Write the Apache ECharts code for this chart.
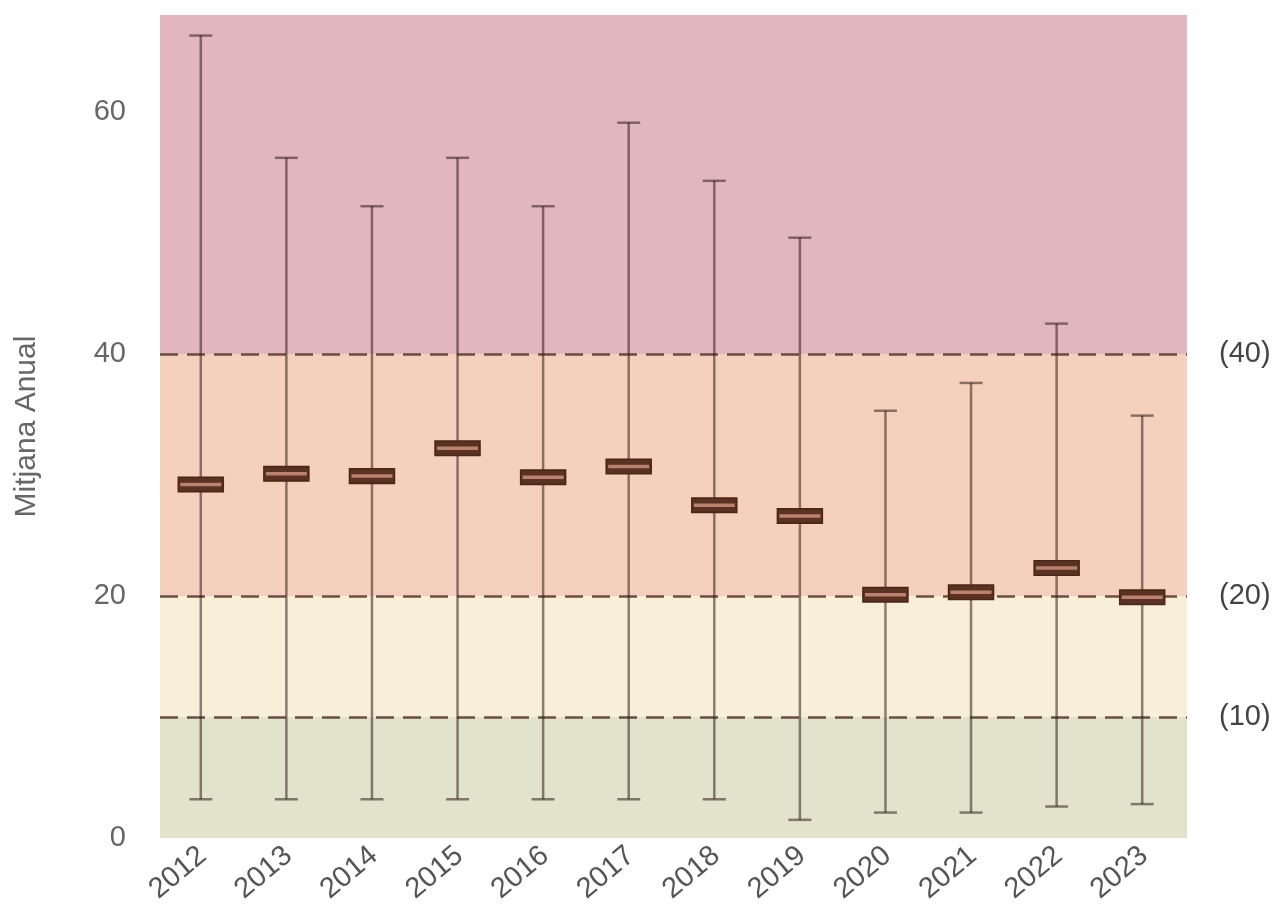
<!DOCTYPE html>
<html>
<head>
<meta charset="utf-8">
<script src="https://cdn.jsdelivr.net/npm/echarts@6/dist/echarts.min.js"></script>
<style>
html,body{margin:0;padding:0;background:#fff;}
#chart{width:1278px;height:914px;}
</style>
</head>
<body>
<div id="chart"></div>
<script>
const years = ['2012','2013','2014','2015','2016','2017','2018','2019','2020','2021','2022','2023'];
const whiskerLow  = [3.2, 3.2, 3.2, 3.2, 3.2, 3.2, 3.2, 1.5, 2.1, 2.1, 2.6, 2.8];
const q1          = [28.6, 29.5, 29.3, 31.6, 29.2, 30.1, 26.9, 26.0, 19.5, 19.7, 21.7, 19.3];
const medians     = [29.2, 30.1, 29.9, 32.2, 29.8, 30.7, 27.5, 26.6, 20.1, 20.3, 22.3, 19.9];
const q3          = [29.8, 30.7, 30.5, 32.8, 30.4, 31.3, 28.1, 27.2, 20.7, 20.9, 22.9, 20.5];
const whiskerHigh = [66.3, 56.2, 52.2, 56.2, 52.2, 59.1, 54.3, 49.6, 35.3, 37.6, 42.5, 34.9];
const thresholds  = [10, 20, 40];
const thresholdLabels = ['(10)', '(20)', '(40)'];
const bandEdges   = [0, 10, 20, 40, 68];
const bandColors  = ['#e1e3ca', '#f9efd8', '#f5d1bd', '#e2b6bd'];
const yTicks = [0, 20, 40, 60];

const boxData = years.map((y, i) => [i, whiskerLow[i], q1[i], medians[i], q3[i], whiskerHigh[i]]);
const FONT = 'Liberation Sans, Arial, sans-serif';

function renderItem(params, api) {
  const i = api.value(0);
  const lo = api.coord([i, api.value(1)]);
  const p1 = api.coord([i, api.value(2)]);
  const pm = api.coord([i, api.value(3)]);
  const p3 = api.coord([i, api.value(4)]);
  const hi = api.coord([i, api.value(5)]);
  const x = lo[0] - 2;
  const boxW = 45, capW = 23;
  const wStyle = {stroke: 'rgba(50,30,28,0.55)', lineWidth: 2.5};
  return {
    type: 'group',
    children: [
      {type: 'line', shape: {x1: x, y1: lo[1], x2: x, y2: hi[1]}, style: wStyle},
      {type: 'line', shape: {x1: x - capW/2, y1: lo[1], x2: x + capW/2, y2: lo[1]}, style: wStyle},
      {type: 'line', shape: {x1: x - capW/2, y1: hi[1], x2: x + capW/2, y2: hi[1]}, style: wStyle},
      {type: 'rect', shape: {x: x - boxW/2, y: p3[1], width: boxW, height: p1[1] - p3[1]},
       style: {fill: '#5a3122', stroke: '#4a2618', lineWidth: 1.5}},
      {type: 'line', shape: {x1: x - boxW/2 + 2, y1: pm[1], x2: x + boxW/2 - 2, y2: pm[1]},
       style: {stroke: '#b8826f', lineWidth: 3.5}}
    ]
  };
}

const chart = echarts.init(document.getElementById('chart'));
chart.setOption({
  animation: false,
  grid: {left: 160, right: 91, top: 15, bottom: 76},
  xAxis: {
    type: 'category',
    data: years,
    axisLine: {show: false},
    axisTick: {show: false},
    splitLine: {show: false},
    axisLabel: {rotate: 40, fontSize: 29, color: '#555', fontFamily: FONT, margin: 14}
  },
  yAxis: {
    type: 'value',
    min: 0,
    max: 68,
    interval: 20,
    name: 'Mitjana Anual',
    nameLocation: 'middle',
    nameGap: 118,
    nameTextStyle: {fontSize: 30, color: '#666', fontFamily: FONT},
    axisLine: {show: false},
    axisTick: {show: false},
    splitLine: {show: false},
    axisLabel: {
      fontSize: 29, color: '#666', margin: 34, fontFamily: FONT,
      showMaxLabel: false,
      formatter: v => (yTicks.indexOf(v) >= 0 ? String(v) : '')
    }
  },
  series: [
    {
      type: 'line',
      data: [],
      z: 1,
      silent: true,
      markArea: {
        silent: true,
        data: bandColors.map((c, k) => [
          {yAxis: bandEdges[k], itemStyle: {color: c, opacity: 1}},
          {yAxis: bandEdges[k + 1]}
        ])
      }
    },
    {
      type: 'line',
      data: [],
      z: 3,
      silent: true,
      markLine: {
        silent: true,
        symbol: 'none',
        lineStyle: {color: 'rgba(85,52,42,0.85)', type: [18, 9], width: 2.5},
        label: {
          position: 'end',
          distance: 32,
          fontSize: 29,
          color: '#444',
          fontFamily: FONT,
          formatter: p => thresholdLabels[thresholds.indexOf(p.value)]
        },
        data: thresholds.map(t => ({yAxis: t}))
      }
    },
    {
      type: 'custom',
      z: 5,
      renderItem: renderItem,
      encode: {x: 0, y: [1, 2, 3, 4, 5]},
      data: boxData
    }
  ]
});
</script>
</body>
</html>
